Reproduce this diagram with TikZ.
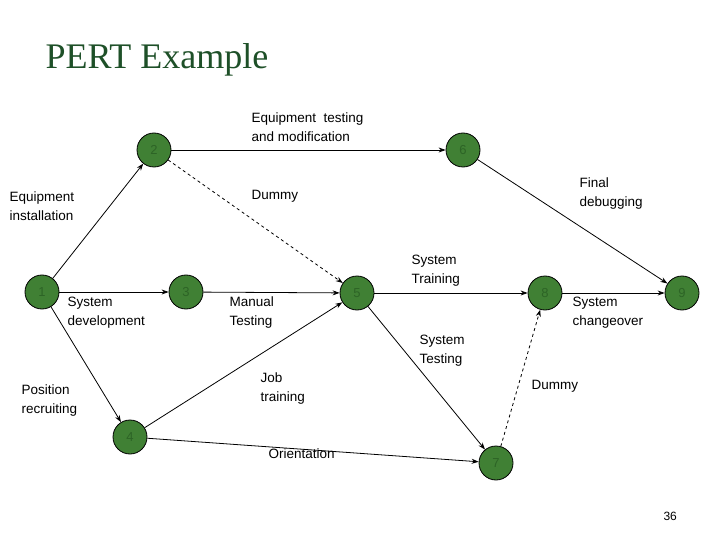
\documentclass[tikz,border=0pt]{standalone}
\usepackage{fontspec}
\setmainfont{Liberation Sans}
\newfontfamily\titlefont{Liberation Serif}
\usetikzlibrary{arrows.meta}
\definecolor{nodegreen}{RGB}{64,128,52}
\definecolor{numgreen}{RGB}{45,100,38}
\definecolor{titlegreen}{RGB}{30,80,40}
\begin{document}
\begin{tikzpicture}[x=1pt,y=-1pt,
  ev/.style={circle,draw=black,thick,fill=nodegreen,minimum size=34pt,inner sep=0pt,text=numgreen,font=\fontsize{13}{13}\selectfont},
  act/.style={-{Stealth[length=7pt,width=5pt]},thick},
  dum/.style={act,dashed},
  lab/.style={align=left,font=\fontsize{13.5}{19}\selectfont,anchor=west}]
\useasboundingbox (0,0) rectangle (720,540);
\fill[white] (0,0) rectangle (720,540);
\node[anchor=west,text=titlegreen,font=\titlefont\fontsize{36}{36}\selectfont] (title) at (42,60) {PERT Example};
\node[ev] (n1) at (42,292) {1};
\node[ev] (n2) at (154,150) {2};
\node[ev] (n3) at (186,292) {3};
\node[ev] (n4) at (130,437) {4};
\node[ev] (n5) at (357,293) {5};
\node[ev] (n6) at (463,150) {6};
\node[ev] (n7) at (496,463) {7};
\node[ev] (n8) at (545,293) {8};
\node[ev] (n9) at (682,293) {9};
\draw[act] (n1) -- (n2);
\draw[act] (n1) -- (n3);
\draw[act] (n1) -- (n4);
\draw[act] (n2) -- (n6);
\draw[dum] (n2) -- (n5);
\draw[act] (n3) -- (n5);
\draw[act] (n4) -- (n5);
\draw[act] (n4) -- (n7);
\draw[act] (n5) -- (n8);
\draw[act] (n5) -- (n7);
\draw[dum] (n7) -- (n8);
\draw[act] (n6) -- (n9);
\draw[act] (n8) -- (n9);
\node[lab] (l1) at (248,127) {Equipment\ \ testing\\and modification};
\node[lab] (l2) at (248,196) {Dummy};
\node[lab] (l3) at (6,206) {Equipment\\installation};
\node[lab] (l4) at (64,313) {System\\development};
\node[lab] (l5) at (226,313) {Manual\\Testing};
\node[lab] (l6) at (408,271) {System\\Training};
\node[lab] (l7) at (569,313) {System\\changeover};
\node[lab] (l8) at (416,351) {System\\Testing};
\node[lab] (l9) at (528,386) {Dummy};
\node[lab] (l10) at (257,389) {Job\\training};
\node[lab] (l11) at (18,401) {Position\\recruiting};
\node[lab] (l12) at (265,454) {Orientation};
\node[lab] (l13) at (576,194) {Final\\debugging};
\node[anchor=west,font=\fontsize{12}{12}\selectfont] (pg) at (660,516) {36};
\end{tikzpicture}
\end{document}
